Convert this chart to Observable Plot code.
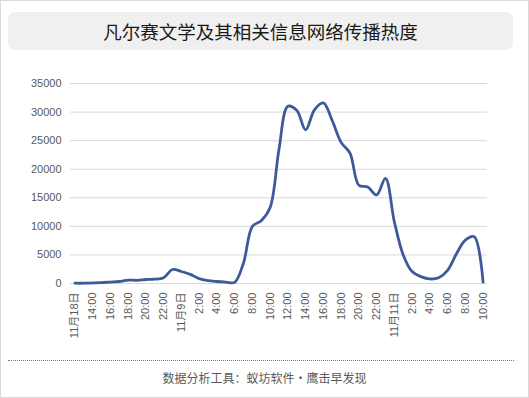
<!DOCTYPE html>
<html>
<head>
<meta charset="utf-8">
<script src="https://cdn.jsdelivr.net/npm/d3@7"></script>
<script src="https://cdn.jsdelivr.net/npm/@observablehq/plot@0.6"></script>
<style>
  body { margin: 0; background: #fff; }
  #wrap { position: relative; width: 529px; height: 398px; outline: 1px solid #d9d9d9; outline-offset: -1px; overflow: hidden; background: #fff; }
  #title { position: absolute; left: 8px; top: 12px; width: 505px; height: 38px; background: #f0f0f0; border-radius: 7px;
    font-family: "Noto Sans CJK SC", sans-serif; font-size: 18.5px; line-height: 38px; text-align: center; color: #1a1a1a; }
  #chart { position: absolute; left: 0; top: 55px; }
  #rule { position: absolute; left: 8px; top: 360px; width: 506px; border-top: 1px dotted #777; }
  #caption { position: absolute; left: 0; top: 369px; width: 529px; text-align: center;
    font-family: "Noto Sans CJK SC", sans-serif; font-size: 12px; color: #595959; }
</style>
</head>
<body>
<div id="wrap">
  <div id="title">凡尔赛文学及其相关信息网络传播热度</div>
  <div id="chart"></div>
  <div id="rule"></div>
  <div id="caption">数据分析工具：蚁坊软件·鹰击早发现</div>
</div>
<script>
// Hourly heat values, 11/18 12:00 through the third day 10:00
const values = [50, 50, 100, 150, 250, 350, 600, 550, 700, 750, 1000, 2450,
  2100, 1600, 850, 500, 350, 250, 200, 3600, 10000, 11000, 13300, 23500,
  31000, 30300, 26900, 30400, 31600, 28500, 24700, 22800, 17200, 16900, 15500, 18400,
  10800, 5000, 2100, 1200, 800, 1000, 2300, 5200, 7600, 8200, 250];
// Labels shown every two hours
const tickLabels = ["11月18日", "14:00", "16:00", "18:00", "20:00", "22:00", "11月9日",
  "2:00", "4:00", "6:00", "8:00", "10:00", "12:00", "14:00", "16:00", "18:00", "20:00", "22:00",
  "11月11日", "2:00", "4:00", "6:00", "8:00", "10:00"];
const yTicks = [0, 5000, 10000, 15000, 20000, 25000, 30000, 35000];

const idx = d3.range(values.length);
const data = values.map((v, i) => ({i, v}));
const xTicks = idx.filter(i => i % 2 === 0);

const chart = Plot.plot({
  width: 529,
  height: 300,
  marginLeft: 70,
  marginRight: 42,
  marginTop: 28,
  marginBottom: 72,
  style: {fontFamily: "'Liberation Sans', 'Noto Sans CJK SC', sans-serif", color: "#595959", background: "transparent"},
  x: {type: "point", domain: idx, padding: 0.5, label: null},
  y: {domain: [0, 35000], label: null},
  marks: [
    Plot.gridY(yTicks, {stroke: "#d9d9d9", strokeOpacity: 1, strokeWidth: 1}),
    Plot.axisY(yTicks, {tickSize: 0, tickPadding: 9, fontSize: 11, label: null, tickFormat: d => String(d)}),
    Plot.axisX(xTicks, {tickSize: 0, tickPadding: 9, tickRotate: -90, fontSize: 11, label: null, tickFormat: i => tickLabels[i / 2]}),
    Plot.line(data, {x: "i", y: "v", curve: "catmull-rom", stroke: "#3f5a9b", strokeWidth: 2.8})
  ]
});
document.getElementById("chart").appendChild(chart);
</script>
</body>
</html>
